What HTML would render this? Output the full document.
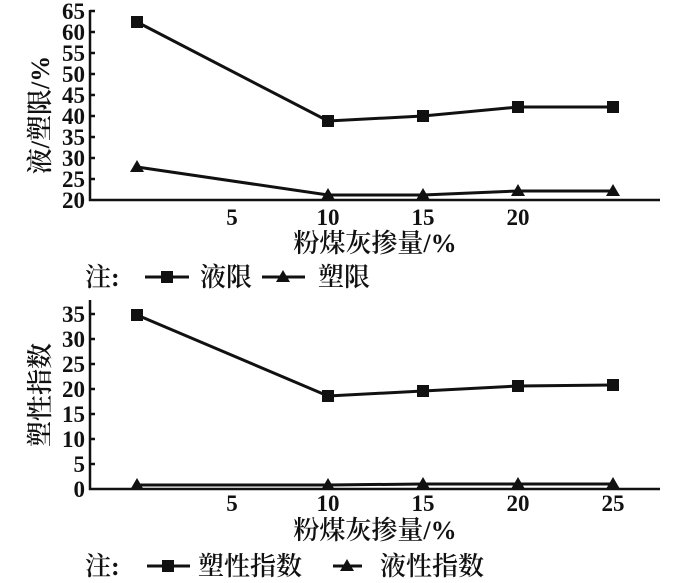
<!DOCTYPE html>
<html><head><meta charset="utf-8"><style>
body{margin:0;background:#fff;}
svg text{font-family:"Liberation Serif","Noto Serif CJK SC",serif;fill:#111;}
</style></head><body>
<svg width="700" height="578" viewBox="0 0 700 578" xmlns="http://www.w3.org/2000/svg">
<g stroke="#111" stroke-width="2.5" fill="none">
<path d="M90 10 V200 H660"/>
<path d="M90 11h5M90 32h5M90 53h5M90 74h5M90 95h5M90 116h5M90 137h5M90 158h5M90 179h5"/>
<path d="M90 300 V489 H660"/>
<path d="M90 314h5M90 339h5M90 364h5M90 389h5M90 414h5M90 439h5M90 464h5"/>
<polyline stroke-width="3" points="137,22 328,121 423,116 518,107 613,107"/>
<polyline stroke-width="3" points="137,167 328,195 423,195 518,191 613,191"/>
<polyline stroke-width="3" points="137,315 328,396 423,391 518,386 613,385"/>
<polyline stroke-width="3" points="137,485 328,485 423,484 518,484 613,484"/>
<path stroke-width="3" d="M145 277h44M262 277h43M147 566h43M333 566h29"/>
</g>
<g fill="#111">
<rect x="131" y="16" width="12" height="12"/><rect x="322" y="115" width="12" height="12"/><rect x="417" y="110" width="12" height="12"/><rect x="512" y="101" width="12" height="12"/><rect x="607" y="101" width="12" height="12"/>
<rect x="131" y="309" width="12" height="12"/><rect x="322" y="390" width="12" height="12"/><rect x="417" y="385" width="12" height="12"/><rect x="512" y="380" width="12" height="12"/><rect x="607" y="379" width="12" height="12"/>
<rect x="161" y="271" width="12" height="12"/><rect x="162" y="560" width="12" height="12"/>
<path d="M137 160l7 12h-14zM328 188l7 12h-14zM423 188l7 12h-14zM518 184l7 12h-14zM613 184l7 12h-14z"/>
<path d="M137 478l7 12h-14zM328 478l7 12h-14zM423 477l7 12h-14zM518 477l7 12h-14zM613 477l7 12h-14z"/>
<path d="M283 270l7 12h-14zM347 559l7 12h-14z"/>
</g>
<g font-size="23" font-weight="bold" text-anchor="end">
<text x="85" y="19">65</text><text x="85" y="40">60</text><text x="85" y="61">55</text><text x="85" y="82">50</text><text x="85" y="103">45</text><text x="85" y="124">40</text><text x="85" y="145">35</text><text x="85" y="166">30</text><text x="85" y="187">25</text><text x="85" y="208">20</text>
<text x="85" y="322">35</text><text x="85" y="347">30</text><text x="85" y="372">25</text><text x="85" y="397">20</text><text x="85" y="422">15</text><text x="85" y="447">10</text><text x="85" y="472">5</text><text x="85" y="497">0</text>
</g>
<g font-size="23" font-weight="bold" text-anchor="middle">
<text x="232" y="225">5</text><text x="328" y="225">10</text><text x="423" y="225">15</text><text x="518" y="225">20</text>
<text x="232" y="511">5</text><text x="328" y="511">10</text><text x="423" y="511">15</text><text x="518" y="511">20</text><text x="613" y="511">25</text>
</g>
<g font-size="26" font-weight="600">
<text x="375" y="252" text-anchor="middle">粉煤灰掺量/%</text>
<text x="375" y="539" text-anchor="middle">粉煤灰掺量/%</text>
<text x="85" y="286">注:</text><text x="200" y="286">液限</text><text x="318" y="286">塑限</text>
<text x="85" y="575">注:</text><text x="198" y="575">塑性指数</text><text x="380" y="575">液性指数</text>
<text transform="translate(49,115) rotate(-90)" text-anchor="middle">液/塑限/%</text>
<text transform="translate(49,395) rotate(-90)" text-anchor="middle">塑性指数</text>
</g>
</svg>
</body></html>
